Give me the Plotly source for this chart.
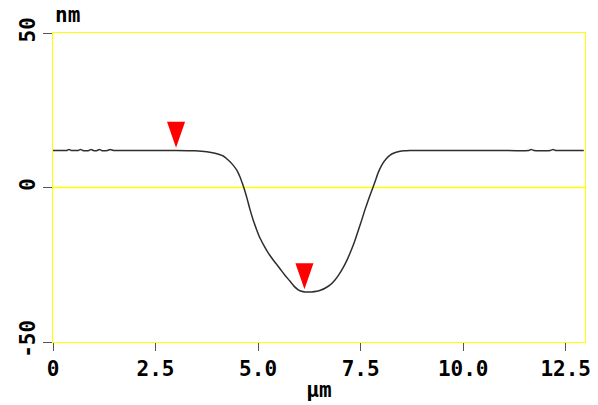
import plotly.graph_objects as go

# Height profile across the trench (lateral position in µm, height in nm)
profile_x = [0.00, 0.34, 0.39, 0.44, 0.62, 0.67, 0.72, 0.88, 0.93, 0.98,
             1.08, 1.13, 1.18, 1.33, 1.40, 1.47, 1.60, 2.00, 2.50, 3.00,
             3.46, 3.75, 3.95, 4.15, 4.27, 4.38, 4.48, 4.56, 4.62, 4.68,
             4.74, 4.80, 4.88, 4.96, 5.04, 5.15, 5.22, 5.29, 5.41, 5.53,
             5.65, 5.77, 5.88, 5.98, 6.06, 6.14, 6.30, 6.43, 6.55, 6.63,
             6.75, 6.87, 6.97, 7.07, 7.17, 7.28, 7.37, 7.44, 7.52, 7.60,
             7.70, 7.80, 7.87, 7.93, 8.03, 8.13, 8.22, 8.30, 8.46, 8.56,
             8.70, 9.50, 10.50, 11.60, 11.66, 11.72, 12.13, 12.19, 12.25, 12.94]
profile_y = [12.0, 12.0, 12.3, 12.0, 12.0, 12.3, 12.0, 12.0, 12.3, 12.0,
             12.0, 12.3, 12.0, 12.0, 12.3, 12.0, 12.0, 12.0, 12.0, 12.0,
             11.9, 11.6, 11.1, 10.2, 8.9, 7.4, 5.6, 3.4, 1.2, -1.2,
             -4.0, -7.0, -10.5, -13.5, -16.2, -19.0, -20.6, -22.0, -24.2, -26.2,
             -28.3, -30.2, -32.0, -33.1, -33.6, -33.8, -33.8, -33.6, -33.1, -32.6,
             -31.6, -30.0, -28.2, -26.0, -23.4, -20.0, -16.8, -14.0, -10.8, -7.4,
             -3.6, 0.0, 2.6, 4.9, 7.6, 9.4, 10.5, 11.1, 11.7, 11.9,
             12.0, 12.0, 12.0, 12.0, 12.3, 12.0, 12.0, 12.3, 12.0, 12.0]

# Cursor positions (µm) and the surface height under each cursor (nm)
cursor_x = [3.00, 6.13]
cursor_y = [12.0, -33.8]

x_ticks = [0, 2.5, 5.0, 7.5, 10.0, 12.5]
x_tick_text = ["0", "2.5", "5.0", "7.5", "10.0", "12.5"]
y_ticks = [-50, 0, 50]
y_tick_text = ["-50", "0", "50"]

FONT = dict(family="DejaVu Sans Mono", size=21, color="#000000", weight="bold")

fig = go.Figure()

fig.add_trace(go.Scatter(
    x=profile_x, y=profile_y, mode="lines",
    line=dict(color="#2e2e2e", width=1.5, shape="spline", smoothing=0.5),
    hoverinfo="skip", showlegend=False,
))

# Red downward cursor triangles sitting just above the profile
half_w = 0.22
gap = 0.9
tri_h = 8.4
for cx, cy in zip(cursor_x, cursor_y):
    tip = cy + gap
    fig.add_trace(go.Scatter(
        x=[cx - half_w, cx + half_w, cx, cx - half_w],
        y=[tip + tri_h, tip + tri_h, tip, tip + tri_h],
        mode="lines", fill="toself", fillcolor="#ff0000",
        line=dict(width=0, color="#ff0000"),
        hoverinfo="skip", showlegend=False,
    ))

fig.update_layout(
    width=598, height=405,
    margin=dict(l=53, r=13, t=33, b=63),
    paper_bgcolor="#ffffff", plot_bgcolor="#ffffff",
    font=FONT,
    xaxis=dict(
        range=[0, 12.97], tickvals=x_ticks, ticktext=x_tick_text,
        showgrid=False, zeroline=False, automargin=False,
        showline=True, linecolor="#ffff00", linewidth=1, mirror=True,
        ticks="outside", ticklen=8, tickwidth=1, tickcolor="#555555",
        tickfont=FONT,
        title=dict(text="µm", font=FONT, standoff=2),
    ),
    yaxis=dict(
        range=[-50, 50], tickvals=y_ticks, ticktext=y_tick_text,
        showgrid=False, automargin=False, zeroline=False,
        showline=True, linecolor="#ffff00", linewidth=1, mirror=True,
        ticks="outside", ticklen=9, tickwidth=1, tickcolor="#555555",
        tickfont=FONT, tickangle=-90,
    ),
    # Yellow reference line at zero height
    shapes=[dict(
        type="line", xref="paper", yref="y", x0=0, x1=1, y0=0, y1=0,
        line=dict(color="#ffff00", width=1.5), layer="below",
    )],
    annotations=[dict(
        text="nm", xref="paper", yref="paper", x=0, y=1,
        xanchor="left", yanchor="bottom", yshift=4,
        showarrow=False, font=FONT,
    )],
)

fig.write_html("out.html")
